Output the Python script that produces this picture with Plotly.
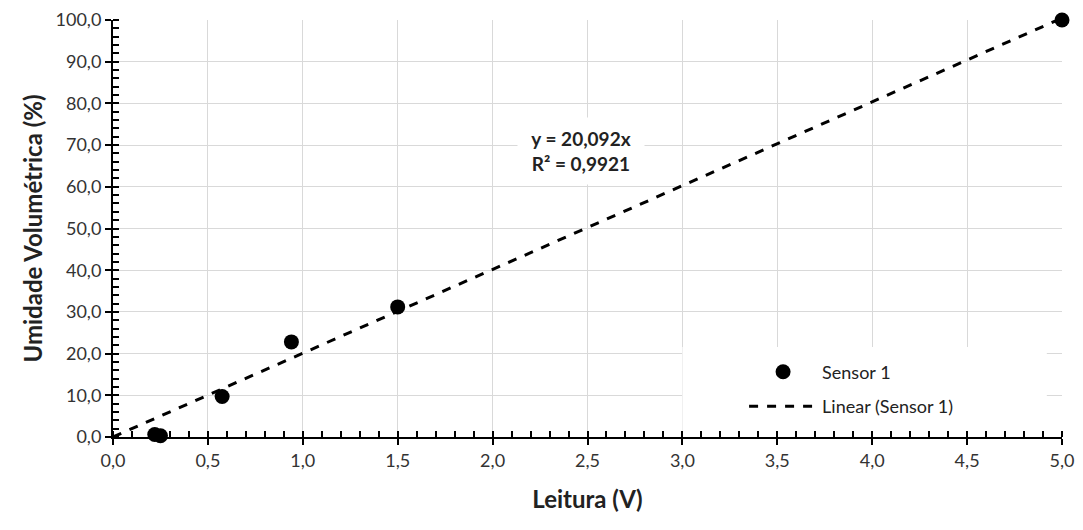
import plotly.graph_objects as go

leitura = [0.22, 0.25, 0.575, 0.94, 1.50, 5.00]
umidade = [0.6, 0.3, 9.7, 22.8, 31.2, 100.0]
slope = 20.092
r2 = 0.9921
trend_x = [0.0, 5.0]
trend_y = [slope * v for v in trend_x]

FONT = "Lato, Carlito, Liberation Sans, sans-serif"

fig = go.Figure()
fig.add_trace(go.Scatter(x=leitura, y=umidade, mode="markers", name="Sensor 1",
                         cliponaxis=False, legendgroup="a",
                         marker=dict(color="black", size=15)))
fig.add_trace(go.Scatter(x=trend_x, y=trend_y, mode="lines", name="Linear (Sensor 1)",
                         cliponaxis=False, legendgroup="b",
                         line=dict(color="black", width=3, dash="dash")))

# white background behind the legend (hides gridlines, like the original)
fig.add_shape(type="rect", xref="x", yref="y", x0=3.0, x1=4.92, y0=0, y1=21.6,
              fillcolor="white", line=dict(width=0), layer="between")

fig.add_annotation(x=2.466, y=68.6, xref="x", yref="y",
                   text="<b>y = 20,092x</b><br><b>R² = 0,9921</b>",
                   showarrow=False, bgcolor="white", align="center",
                   width=124, height=64,
                   font=dict(family=FONT, size=19, color="#222"))

axis_common = dict(showline=True, linecolor="black", linewidth=2,
                   gridcolor="#d9d9d9", gridwidth=1, zeroline=False,
                   ticks="outside", ticklen=6, tickwidth=2, tickcolor="black",
                   tickfont=dict(family=FONT, size=18, color="#333"),
                   tickformat=".1f", automargin=False)

fig.update_layout(
    width=1083, height=530,
    margin=dict(l=105, r=29, t=12, b=101),
    paper_bgcolor="white", plot_bgcolor="white",
    separators=",.",
    showlegend=True,
    legend=dict(x=0.665, y=0.2, xanchor="left", yanchor="top",
                bgcolor="rgba(0,0,0,0)", itemwidth=68,
                traceorder="grouped", tracegroupgap=8,
                font=dict(family=FONT, size=18, color="#222")),
    xaxis=dict(range=[0, 5], dtick=0.5, tick0=0,
               minor=dict(ticks="inside", dtick=0.1, ticklen=6, tickwidth=1.5,
                          tickcolor="black", showgrid=False),
               title=dict(text="<b>Leitura (V)</b>", standoff=22,
                          font=dict(family=FONT, size=24, color="#222")),
               **axis_common),
    yaxis=dict(range=[0, 100], dtick=10, tick0=0,
               minor=dict(ticks="inside", dtick=2, ticklen=6, tickwidth=1.5,
                          tickcolor="black", showgrid=False),
               title=dict(text="<b>Umidade Volumétrica (%)</b>", standoff=6,
                          font=dict(family=FONT, size=24, color="#222")),
               **axis_common),
)

fig.write_html("out.html")
